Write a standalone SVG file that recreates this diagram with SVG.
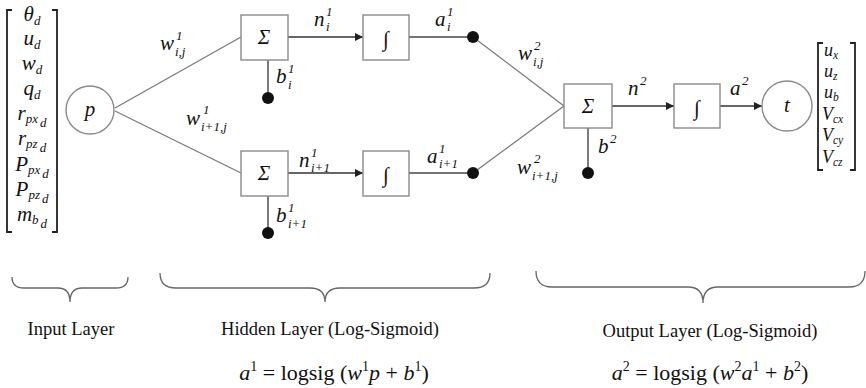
<svg xmlns="http://www.w3.org/2000/svg" width="866" height="388" viewBox="0 0 866 388">
<defs>
<style>
.m{font-family:"Liberation Serif","DejaVu Serif",serif;font-style:italic;font-size:21px;fill:#111}
.s{font-family:"Liberation Serif","DejaVu Serif",serif;font-style:italic;font-size:13px;fill:#111}
.v{font-family:"Liberation Serif","DejaVu Serif",serif;font-style:italic;font-size:18px;fill:#111}
.vs{font-size:11.5px}
.r{font-family:"Liberation Serif","DejaVu Serif",serif;font-size:21px;fill:#111}
.lab{font-family:"Liberation Serif","DejaVu Serif",serif;font-size:18.5px;fill:#111}
.fm{font-family:"Liberation Serif","DejaVu Serif",serif;font-size:22px;fill:#111}
.box{fill:#fff;stroke:#8a8a8a;stroke-width:1.4}
.circ{fill:#fff;stroke:#8a8a8a;stroke-width:1.4}
.w{stroke:#7a7a7a;stroke-width:1.3;fill:none}
.ar{stroke:#333;stroke-width:1.4;fill:none;marker-end:url(#ah)}
.bias{stroke:#444;stroke-width:1.4}
.dot{fill:#111}
.brk{stroke:#222;stroke-width:1.8;fill:none}
.brace{stroke:#666;stroke-width:1.3;fill:none}
</style>
<marker id="ah" viewBox="0 0 10 10" refX="10" refY="5" markerWidth="9" markerHeight="8" markerUnits="userSpaceOnUse" orient="auto">
<path d="M0,0 L10,5 L0,10 z" fill="#222"/>
</marker>
</defs>

<g id="input-vector">
<path class="brk" d="M12,10 H7 V232 H12"/>
<path class="brk" d="M52,10 H57 V232 H52"/>
<text class="m" x="32" y="21" text-anchor="middle">θ<tspan class="s" dy="4">d</tspan></text>
<text class="m" x="32" y="45" text-anchor="middle">u<tspan class="s" dy="4">d</tspan></text>
<text class="m" x="32" y="70" text-anchor="middle">w<tspan class="s" dy="4">d</tspan></text>
<text class="m" x="32" y="95" text-anchor="middle">q<tspan class="s" dy="4">d</tspan></text>
<text class="m" x="32" y="120" text-anchor="middle">r<tspan class="s" dy="3">px</tspan><tspan class="s" dx="2" dy="4">d</tspan></text>
<text class="m" x="32" y="145" text-anchor="middle">r<tspan class="s" dy="3">pz</tspan><tspan class="s" dx="2" dy="4">d</tspan></text>
<text class="m" x="32" y="171" text-anchor="middle">P<tspan class="s" dy="3">px</tspan><tspan class="s" dx="2" dy="4">d</tspan></text>
<text class="m" x="32" y="196" text-anchor="middle">P<tspan class="s" dy="3">pz</tspan><tspan class="s" dx="2" dy="4">d</tspan></text>
<text class="m" x="32" y="221" text-anchor="middle">m<tspan class="s" dy="3">b</tspan><tspan class="s" dx="2" dy="4">d</tspan></text>
</g>

<g id="connectors">
<line class="w" x1="115" y1="108" x2="241" y2="37"/>
<line class="w" x1="115" y1="111" x2="241" y2="173"/>
<line class="ar" x1="288" y1="37" x2="363" y2="37"/>
<line class="ar" x1="288" y1="173" x2="363" y2="173"/>
<line class="bias" x1="268" y1="60" x2="268" y2="97"/>
<line class="bias" x1="268" y1="196" x2="268" y2="232"/>
<line class="bias" x1="409" y1="37" x2="473" y2="37"/>
<line class="bias" x1="409" y1="173" x2="473" y2="173"/>
<line class="w" x1="473" y1="37" x2="564" y2="106"/>
<line class="w" x1="473" y1="173" x2="564" y2="106"/>
<line class="bias" x1="588" y1="128" x2="588" y2="172"/>
<line class="ar" x1="612" y1="106" x2="674" y2="106"/>
<line class="ar" x1="720" y1="106" x2="762" y2="106"/>
</g>

<g id="node-p"><circle class="circ" cx="90" cy="110" r="24"/><text class="m" x="90" y="116" text-anchor="middle">p</text></g>

<g id="sum1"><rect class="box" x="241" y="15" width="47" height="45"/><text class="m" x="264" y="44" text-anchor="middle">Σ</text></g>
<g id="sum2"><rect class="box" x="241" y="151" width="47" height="45"/><text class="m" x="264" y="180" text-anchor="middle">Σ</text></g>
<g id="f1"><rect class="box" x="363" y="15" width="46" height="45"/><text class="r" x="386" y="46" text-anchor="middle" font-size="25">∫</text></g>
<g id="f2"><rect class="box" x="363" y="151" width="46" height="45"/><text class="r" x="386" y="182" text-anchor="middle" font-size="25">∫</text></g>
<g id="bias1"><circle class="dot" cx="268" cy="98" r="6"/></g>
<g id="bias2"><circle class="dot" cx="268" cy="233" r="6"/></g>
<g id="out1"><circle class="dot" cx="473" cy="37" r="6"/></g>
<g id="out2"><circle class="dot" cx="473" cy="173" r="6"/></g>
<g id="sum-out"><rect class="box" x="564" y="84" width="48" height="44"/><text class="m" x="588" y="113" text-anchor="middle">Σ</text></g>
<g id="bias-out"><circle class="dot" cx="588" cy="173" r="6"/></g>
<g id="f-out"><rect class="box" x="674" y="84" width="46" height="44"/><text class="r" x="697" y="115" text-anchor="middle" font-size="25">∫</text></g>
<g id="node-t"><circle class="circ" cx="787" cy="106" r="25"/><text class="m" x="787" y="112" text-anchor="middle">t</text></g>

<g id="output-vector">
<path class="brk" d="M823,43 H818 V170 H823"/>
<path class="brk" d="M850,43 H855 V170 H850"/>
<text class="v" x="824" y="56">u<tspan class="vs" dy="3">x</tspan></text>
<text class="v" x="824" y="77">u<tspan class="vs" dy="3">z</tspan></text>
<text class="v" x="824" y="98">u<tspan class="vs" dy="3">b</tspan></text>
<text class="v" x="822" y="120">V<tspan class="vs" dy="3">cx</tspan></text>
<text class="v" x="822" y="141">V<tspan class="vs" dy="3">cy</tspan></text>
<text class="v" x="822" y="163">V<tspan class="vs" dy="3">cz</tspan></text>
</g>

<g id="labels">
<text class="m" x="160" y="50">w</text><text class="s" x="176" y="40">1</text><text class="s" x="175" y="56">i,j</text>
<text class="m" x="186" y="125">w</text><text class="s" x="203" y="114">1</text><text class="s" x="201" y="131">i+1,j</text>
<text class="m" x="314" y="26">n</text><text class="s" x="326" y="16">1</text><text class="s" x="326" y="31">i</text>
<text class="m" x="435" y="26">a</text><text class="s" x="447" y="16">1</text><text class="s" x="447" y="31">i</text>
<text class="m" x="276" y="83">b</text><text class="s" x="288" y="73">1</text><text class="s" x="288" y="89">i</text>
<text class="m" x="299" y="167">n</text><text class="s" x="311" y="157">1</text><text class="s" x="311" y="172">i+1</text>
<text class="m" x="427" y="163">a</text><text class="s" x="439" y="153">1</text><text class="s" x="439" y="168">i+1</text>
<text class="m" x="276" y="222">b</text><text class="s" x="288" y="212">1</text><text class="s" x="288" y="228">i+1</text>
<text class="m" x="518" y="60">w</text><text class="s" x="534" y="50">2</text><text class="s" x="533" y="66">i,j</text>
<text class="m" x="517" y="174">w</text><text class="s" x="534" y="163">2</text><text class="s" x="532" y="180">i+1,j</text>
<text class="m" x="628" y="95">n</text><text class="s" x="640" y="85">2</text>
<text class="m" x="730" y="95">a</text><text class="s" x="742" y="85">2</text>
<text class="m" x="598" y="153">b</text><text class="s" x="610" y="143">2</text>
</g>

<g id="braces">
<path class="brace" d="M12,277 Q12,288 24,288 L58,288 Q70,288 70,302 Q70,288 82,288 L116,288 Q128,288 128,277"/>
<path class="brace" d="M160,273 Q160,288 176,288 L310,288 Q325,288 325,302 Q325,288 340,288 L474,288 Q490,288 490,273"/>
<path class="brace" d="M536,271 Q536,287 552,287 L688,287 Q703,287 703,303 Q703,287 718,287 L849,287 Q865,287 865,271"/>
</g>

<g id="layer-labels">
<text class="lab" x="71" y="335" text-anchor="middle">Input Layer</text>
<text class="lab" x="330" y="335" text-anchor="middle">Hidden Layer (Log-Sigmoid)</text>
<text class="lab" x="710" y="337" text-anchor="middle">Output Layer (Log-Sigmoid)</text>
</g>

<g id="formulas">
<text class="fm" x="334" y="380" text-anchor="middle"><tspan font-style="italic">a</tspan><tspan font-size="14" dy="-9">1</tspan><tspan dy="9"> = logsig (</tspan><tspan font-style="italic">w</tspan><tspan font-size="14" dy="-9">1</tspan><tspan font-style="italic" dy="9">p</tspan><tspan> + </tspan><tspan font-style="italic">b</tspan><tspan font-size="14" dy="-9">1</tspan><tspan dy="9">)</tspan></text>
<text class="fm" x="710" y="380" text-anchor="middle"><tspan font-style="italic">a</tspan><tspan font-size="14" dy="-9">2</tspan><tspan dy="9"> = logsig (</tspan><tspan font-style="italic">w</tspan><tspan font-size="14" dy="-9">2</tspan><tspan font-style="italic" dy="9">a</tspan><tspan font-size="14" dy="-9">1</tspan><tspan dy="9"> + </tspan><tspan font-style="italic">b</tspan><tspan font-size="14" dy="-9">2</tspan><tspan dy="9">)</tspan></text>
</g>
</svg>
